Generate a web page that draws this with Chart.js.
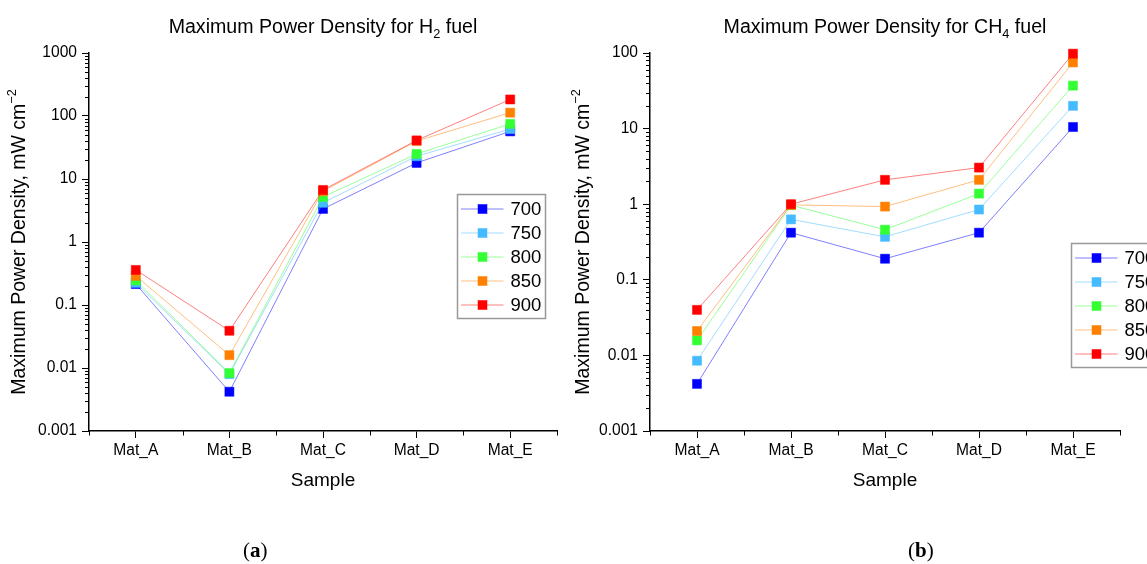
<!DOCTYPE html>
<html><head><meta charset="utf-8">
<script src="https://cdn.jsdelivr.net/npm/chart.js@4.4.1/dist/chart.umd.min.js"></script>
<style>
html,body{margin:0;padding:0;background:#fff;width:1147px;height:564px;overflow:hidden;position:relative}
canvas{position:absolute;top:0}
#c1{left:0}
#c2{left:570px}
.lab{position:absolute;top:538px;font-family:"Liberation Serif","DejaVu Serif",serif;font-size:21px;color:#000;line-height:24px}
.lab b{font-weight:bold}
</style></head>
<body>
<canvas id="c1" width="570" height="564"></canvas>
<canvas id="c2" width="577" height="564"></canvas>
<div class="lab" style="left:243px">(<b>a</b>)</div>
<div class="lab" style="left:908px">(<b>b</b>)</div>
<script>
// ---------- data ----------
const categories = ['Mat_A', 'Mat_B', 'Mat_C', 'Mat_D', 'Mat_E'];
const seriesNames = ['700', '750', '800', '850', '900'];

const h2_700 = [0.215, 0.0042, 3.35, 18, 57];
const h2_750 = [0.225, 0.0080, 4.2, 23, 62];
const h2_800 = [0.245, 0.0083, 5.2, 25, 75];
const h2_850 = [0.29, 0.016, 6.4, 40, 113];
const h2_900 = [0.36, 0.039, 6.7, 41, 183];

const ch4_700 = [0.0042, 0.42, 0.19, 0.42, 10.5];
const ch4_750 = [0.0085, 0.63, 0.37, 0.85, 20];
const ch4_800 = [0.0158, 0.97, 0.46, 1.38, 37];
const ch4_850 = [0.021, 0.98, 0.93, 2.1, 75];
const ch4_900 = [0.040, 1.0, 2.1, 3.05, 98];

const h2TickValues = [0.001, 0.01, 0.1, 1, 10, 100, 1000];
const h2TickLabels = ['0.001', '0.01', '0.1', '1', '10', '100', '1000'];
const ch4TickValues = [0.001, 0.01, 0.1, 1, 10, 100];
const ch4TickLabels = ['0.001', '0.01', '0.1', '1', '10', '100'];

// ---------- styles ----------
const FAM = '"Liberation Sans", Arial, sans-serif';
const pointColors = ['#0000FF', '#45BBFF', '#33FF33', '#FF8000', '#FF0000'];
const lineColors = ['rgba(0,0,255,0.5)', 'rgba(69,187,255,0.5)', 'rgba(51,255,51,0.5)', 'rgba(255,128,0,0.5)', 'rgba(255,0,0,0.5)'];

Chart.defaults.font.family = FAM;
Chart.defaults.color = '#000';

function drawRich(ctx, segs, x, y, size) {
  let total = 0;
  segs.forEach(s => {
    ctx.font = (s.k ? size * 0.65 : size) + 'px ' + FAM;
    s.w = ctx.measureText(s.t).width;
    total += s.w;
  });
  let cx = x - total / 2;
  ctx.textBaseline = 'alphabetic';
  ctx.textAlign = 'left';
  segs.forEach(s => {
    ctx.font = (s.k ? size * 0.65 : size) + 'px ' + FAM;
    const dy = s.k === 'sub' ? size * 0.28 : (s.k === 'sup' ? -size * 0.45 : 0);
    ctx.fillText(s.t, cx, y + dy);
    cx += s.w;
  });
}

const decorPlugin = {
  id: 'decor',
  afterDraw(chart, args, o) {
    const ctx = chart.ctx;
    const ca = chart.chartArea;
    const ys = chart.scales.y, xs = chart.scales.x;
    ctx.save();
    ctx.fillStyle = '#000';
    // title
    drawRich(ctx, o.title, (ca.left + ca.right) / 2, 33, 19.6);
    // y title
    ctx.save();
    ctx.translate(o.yTitleX, (ca.top + ca.bottom) / 2);
    ctx.rotate(-Math.PI / 2);
    drawRich(ctx, o.yTitle, 0, 6.8, 19.5);
    ctx.restore();
    // minor y ticks
    ctx.strokeStyle = '#000';
    ctx.lineWidth = 1;
    const e0 = Math.round(Math.log10(ys.min)), e1 = Math.round(Math.log10(ys.max));
    ctx.beginPath();
    for (let e = e0; e < e1; e++) {
      for (let m = 2; m <= 9; m++) {
        const py = Math.round(ys.getPixelForValue(m * Math.pow(10, e))) + 0.5;
        ctx.moveTo(ca.left - 4, py);
        ctx.lineTo(ca.left, py);
      }
    }
    // minor x ticks
    const xp = [ca.left, ca.right];
    for (let i = 0; i < categories.length - 1; i++) {
      xp.push((xs.getPixelForValue(i) + xs.getPixelForValue(i + 1)) / 2);
    }
    xp.forEach(p => {
      const px = Math.round(p) + 0.5;
      ctx.moveTo(px, ca.bottom);
      ctx.lineTo(px, ca.bottom + 4.5);
    });
    ctx.stroke();
    // legend
    const lx = o.legendX, ly = o.legendY;
    ctx.fillStyle = '#fff';
    ctx.fillRect(lx, ly, 88, 124);
    ctx.strokeStyle = '#999';
    ctx.lineWidth = 1.5;
    ctx.strokeRect(lx, ly, 88, 124);
    chart.data.datasets.forEach((ds, i) => {
      const ry = ly + 14.5 + 24 * i;
      ctx.strokeStyle = ds.borderColor;
      ctx.lineWidth = 1;
      ctx.beginPath();
      ctx.moveTo(lx + 3.5, ry);
      ctx.lineTo(lx + 46, ry);
      ctx.stroke();
      ctx.fillStyle = ds.pointBackgroundColor;
      ctx.fillRect(lx + 25 - 4.5, ry - 4.5, 9, 9);
      ctx.strokeStyle = ds.pointBorderColor;
      ctx.strokeRect(lx + 25 - 4.5, ry - 4.5, 9, 9);
      ctx.fillStyle = '#000';
      ctx.font = '18.5px ' + FAM;
      ctx.textBaseline = 'middle';
      ctx.textAlign = 'left';
      ctx.fillText(ds.label, lx + 53, ry + 1);
    });
    ctx.restore();
  }
};

function makeDatasets(arrs) {
  return arrs.map((a, i) => ({
    label: seriesNames[i],
    data: a,
    borderColor: lineColors[i],
    backgroundColor: pointColors[i],
    pointBackgroundColor: pointColors[i],
    pointBorderColor: lineColors[i],
    borderWidth: 1,
    pointStyle: 'rect',
    pointRadius: 6.4,
    pointBorderWidth: 1,
    tension: 0,
    clip: false,
    order: arrs.length - 1 - i
  }));
}

function makeChart(id, arrs, tickVals, tickLabels, yMax, yWidth, padRight, decor) {
  return new Chart(document.getElementById(id), {
    type: 'line',
    data: { labels: categories, datasets: makeDatasets(arrs) },
    options: {
      responsive: false,
      animation: false,
      devicePixelRatio: 1,
      layout: { padding: { left: 0, top: 53, right: padRight, bottom: 0 } },
      plugins: { legend: { display: false }, title: { display: false }, tooltip: { enabled: false }, decor: decor },
      scales: {
        x: {
          type: 'category',
          offset: true,
          grid: { display: true, drawOnChartArea: false, drawTicks: true, tickLength: 7, color: '#000', offset: false },
          border: { display: true, color: '#000', width: 1.5 },
          ticks: { color: '#000', font: { size: 15.6 }, padding: 3, maxRotation: 0, autoSkip: false },
          title: { display: true, text: 'Sample', color: '#000', font: { size: 19 }, padding: { top: 4, bottom: 72 } },
          afterFit: s => { s.height = 133; }
        },
        y: {
          type: 'logarithmic',
          min: 0.001,
          max: yMax,
          afterBuildTicks: s => { s.ticks = tickVals.map(v => ({ value: v })); },
          ticks: { color: '#000', font: { size: 15.6 }, padding: 5, callback: (v, i) => tickLabels[i] },
          grid: { display: true, drawOnChartArea: false, drawTicks: true, tickLength: 7, color: '#000' },
          border: { display: true, color: '#000', width: 1.5 },
          afterFit: s => { s.width = yWidth; }
        }
      }
    },
    plugins: [decorPlugin]
  });
}

makeChart('c1', [h2_700, h2_750, h2_800, h2_850, h2_900], h2TickValues, h2TickLabels, 1000, 89, 13, {
  title: [{ t: 'Maximum Power Density for H' }, { t: '2', k: 'sub' }, { t: ' fuel' }],
  yTitle: [{ t: 'Maximum Power Density, mW cm' }, { t: '\u22122', k: 'sup' }],
  yTitleX: 18,
  legendX: 457.5, legendY: 194.5
});

makeChart('c2', [ch4_700, ch4_750, ch4_800, ch4_850, ch4_900], ch4TickValues, ch4TickLabels, 100, 80, 27, {
  title: [{ t: 'Maximum Power Density for CH' }, { t: '4', k: 'sub' }, { t: ' fuel' }],
  yTitle: [{ t: 'Maximum Power Density, mW cm' }, { t: '\u22122', k: 'sup' }],
  yTitleX: 12,
  legendX: 501.5, legendY: 243.5
});
</script>
</body></html>
